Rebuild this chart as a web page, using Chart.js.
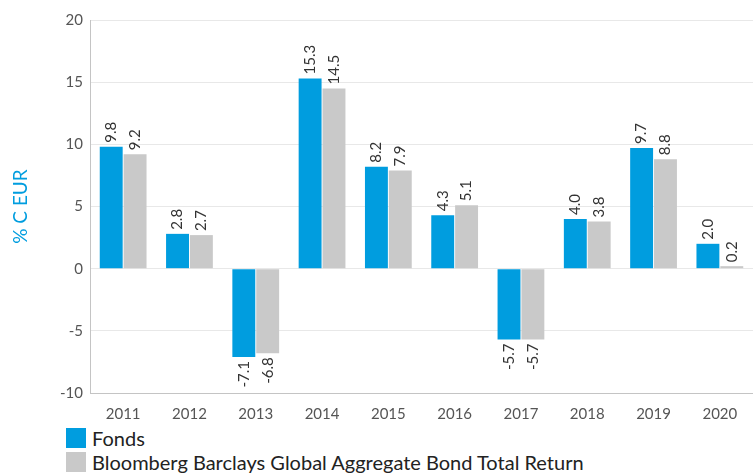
<!DOCTYPE html>
<html>
<head>
<meta charset="utf-8">
<script src="https://cdn.jsdelivr.net/npm/chart.js@4"></script>
<style>
  body { margin: 0; background: #fff; font-family: Lato, sans-serif; }
  .wrap { position: relative; width: 753px; height: 473px; overflow: hidden; }
  .chart-box { position: absolute; left: 0; top: 0; width: 753px; height: 425px; }
  .legend { position: absolute; left: 66px; top: 426px; }
  .legend .item { display: flex; align-items: center; height: 24px; font-size: 20px; color: #222; }
  .legend .swatch { width: 20px; height: 20px; margin-right: 6px; }
</style>
</head>
<body>
<div class="wrap">
  <div class="chart-box"><canvas id="myChart"></canvas></div>
  <div class="legend" id="legend"></div>
</div>
<script>
const years = ['2011', '2012', '2013', '2014', '2015', '2016', '2017', '2018', '2019', '2020']
const fondsValues = [9.8, 2.8, -7.1, 15.3, 8.2, 4.3, -5.7, 4.0, 9.7, 2.0]
const indexValues = [9.2, 2.7, -6.8, 14.5, 7.9, 5.1, -5.7, 3.8, 8.8, 0.2]
const seriesNames = ['Fonds', 'Bloomberg Barclays Global Aggregate Bond Total Return']
const yTicks = [-10, -5, 0, 5, 10, 15, 20]

const BLUE = '#009ddf'
const GREY = '#c9c9c9'

// values written above / below each bar, turned on their side
const barLabels = {
  id: 'barLabels',
  afterDatasetsDraw(chart) {
    const ctx = chart.ctx
    ctx.save()
    ctx.font = '15px Lato'
    ctx.fillStyle = '#333'
    ctx.textBaseline = 'middle'
    chart.data.datasets.forEach((ds, i) => {
      chart.getDatasetMeta(i).data.forEach((bar, j) => {
        const v = ds.data[j]
        ctx.save()
        ctx.translate(bar.x, bar.y)
        ctx.rotate(-Math.PI / 2)
        if (v >= 0) {
          ctx.textAlign = 'left'
          ctx.fillText(v.toFixed(1), 4, 0)
        } else {
          ctx.textAlign = 'right'
          ctx.fillText(v.toFixed(1), -4, 0)
        }
        ctx.restore()
      })
    })
    ctx.restore()
  }
}

const ctx = document.getElementById('myChart').getContext('2d')
const myChart = new Chart(ctx, {
  type: 'bar',
  data: {
    labels: years,
    datasets: [
      { label: seriesNames[0], data: fondsValues, backgroundColor: BLUE, borderWidth: 0 },
      { label: seriesNames[1], data: indexValues, backgroundColor: GREY, borderWidth: 0 },
    ],
  },
  options: {
    responsive: true,
    maintainAspectRatio: false,
    animation: false,
    layout: { padding: { top: 20, left: 0, right: 0, bottom: 0 } },
    datasets: { bar: { categoryPercentage: 0.72, barPercentage: 0.96 } },
    plugins: {
      legend: { display: false },
      tooltip: { enabled: false },
    },
    scales: {
      x: {
        grid: { display: false },
        border: { display: true, color: '#c4c4c4', width: 1 },
        ticks: { color: '#555', font: { family: 'Lato', size: 15 }, padding: 4 },
        afterFit: (scale) => { scale.height = 32 },
      },
      y: {
        min: -10,
        max: 20,
        afterBuildTicks: (scale) => { scale.ticks = yTicks.map(v => ({ value: v })) },
        grid: { color: '#e8e8e8', drawTicks: false },
        border: { display: true, color: '#c4c4c4', width: 1 },
        ticks: { color: '#555', font: { family: 'Lato', size: 15 }, padding: 7 },
        title: {
          display: true,
          text: '% C EUR',
          color: BLUE,
          font: { family: 'Lato', size: 19 },
          padding: { top: 9, bottom: 0 },
        },
        afterFit: (scale) => { scale.width = 90 },
      },
    },
  },
  plugins: [barLabels],
})

// legend below the chart, one series per line
const legendEl = document.getElementById('legend')
myChart.data.datasets.forEach((ds) => {
  const item = document.createElement('div')
  item.className = 'item'
  const sw = document.createElement('span')
  sw.className = 'swatch'
  sw.style.background = ds.backgroundColor
  const txt = document.createElement('span')
  txt.textContent = ds.label
  item.appendChild(sw)
  item.appendChild(txt)
  legendEl.appendChild(item)
})
</script>
</body>
</html>
